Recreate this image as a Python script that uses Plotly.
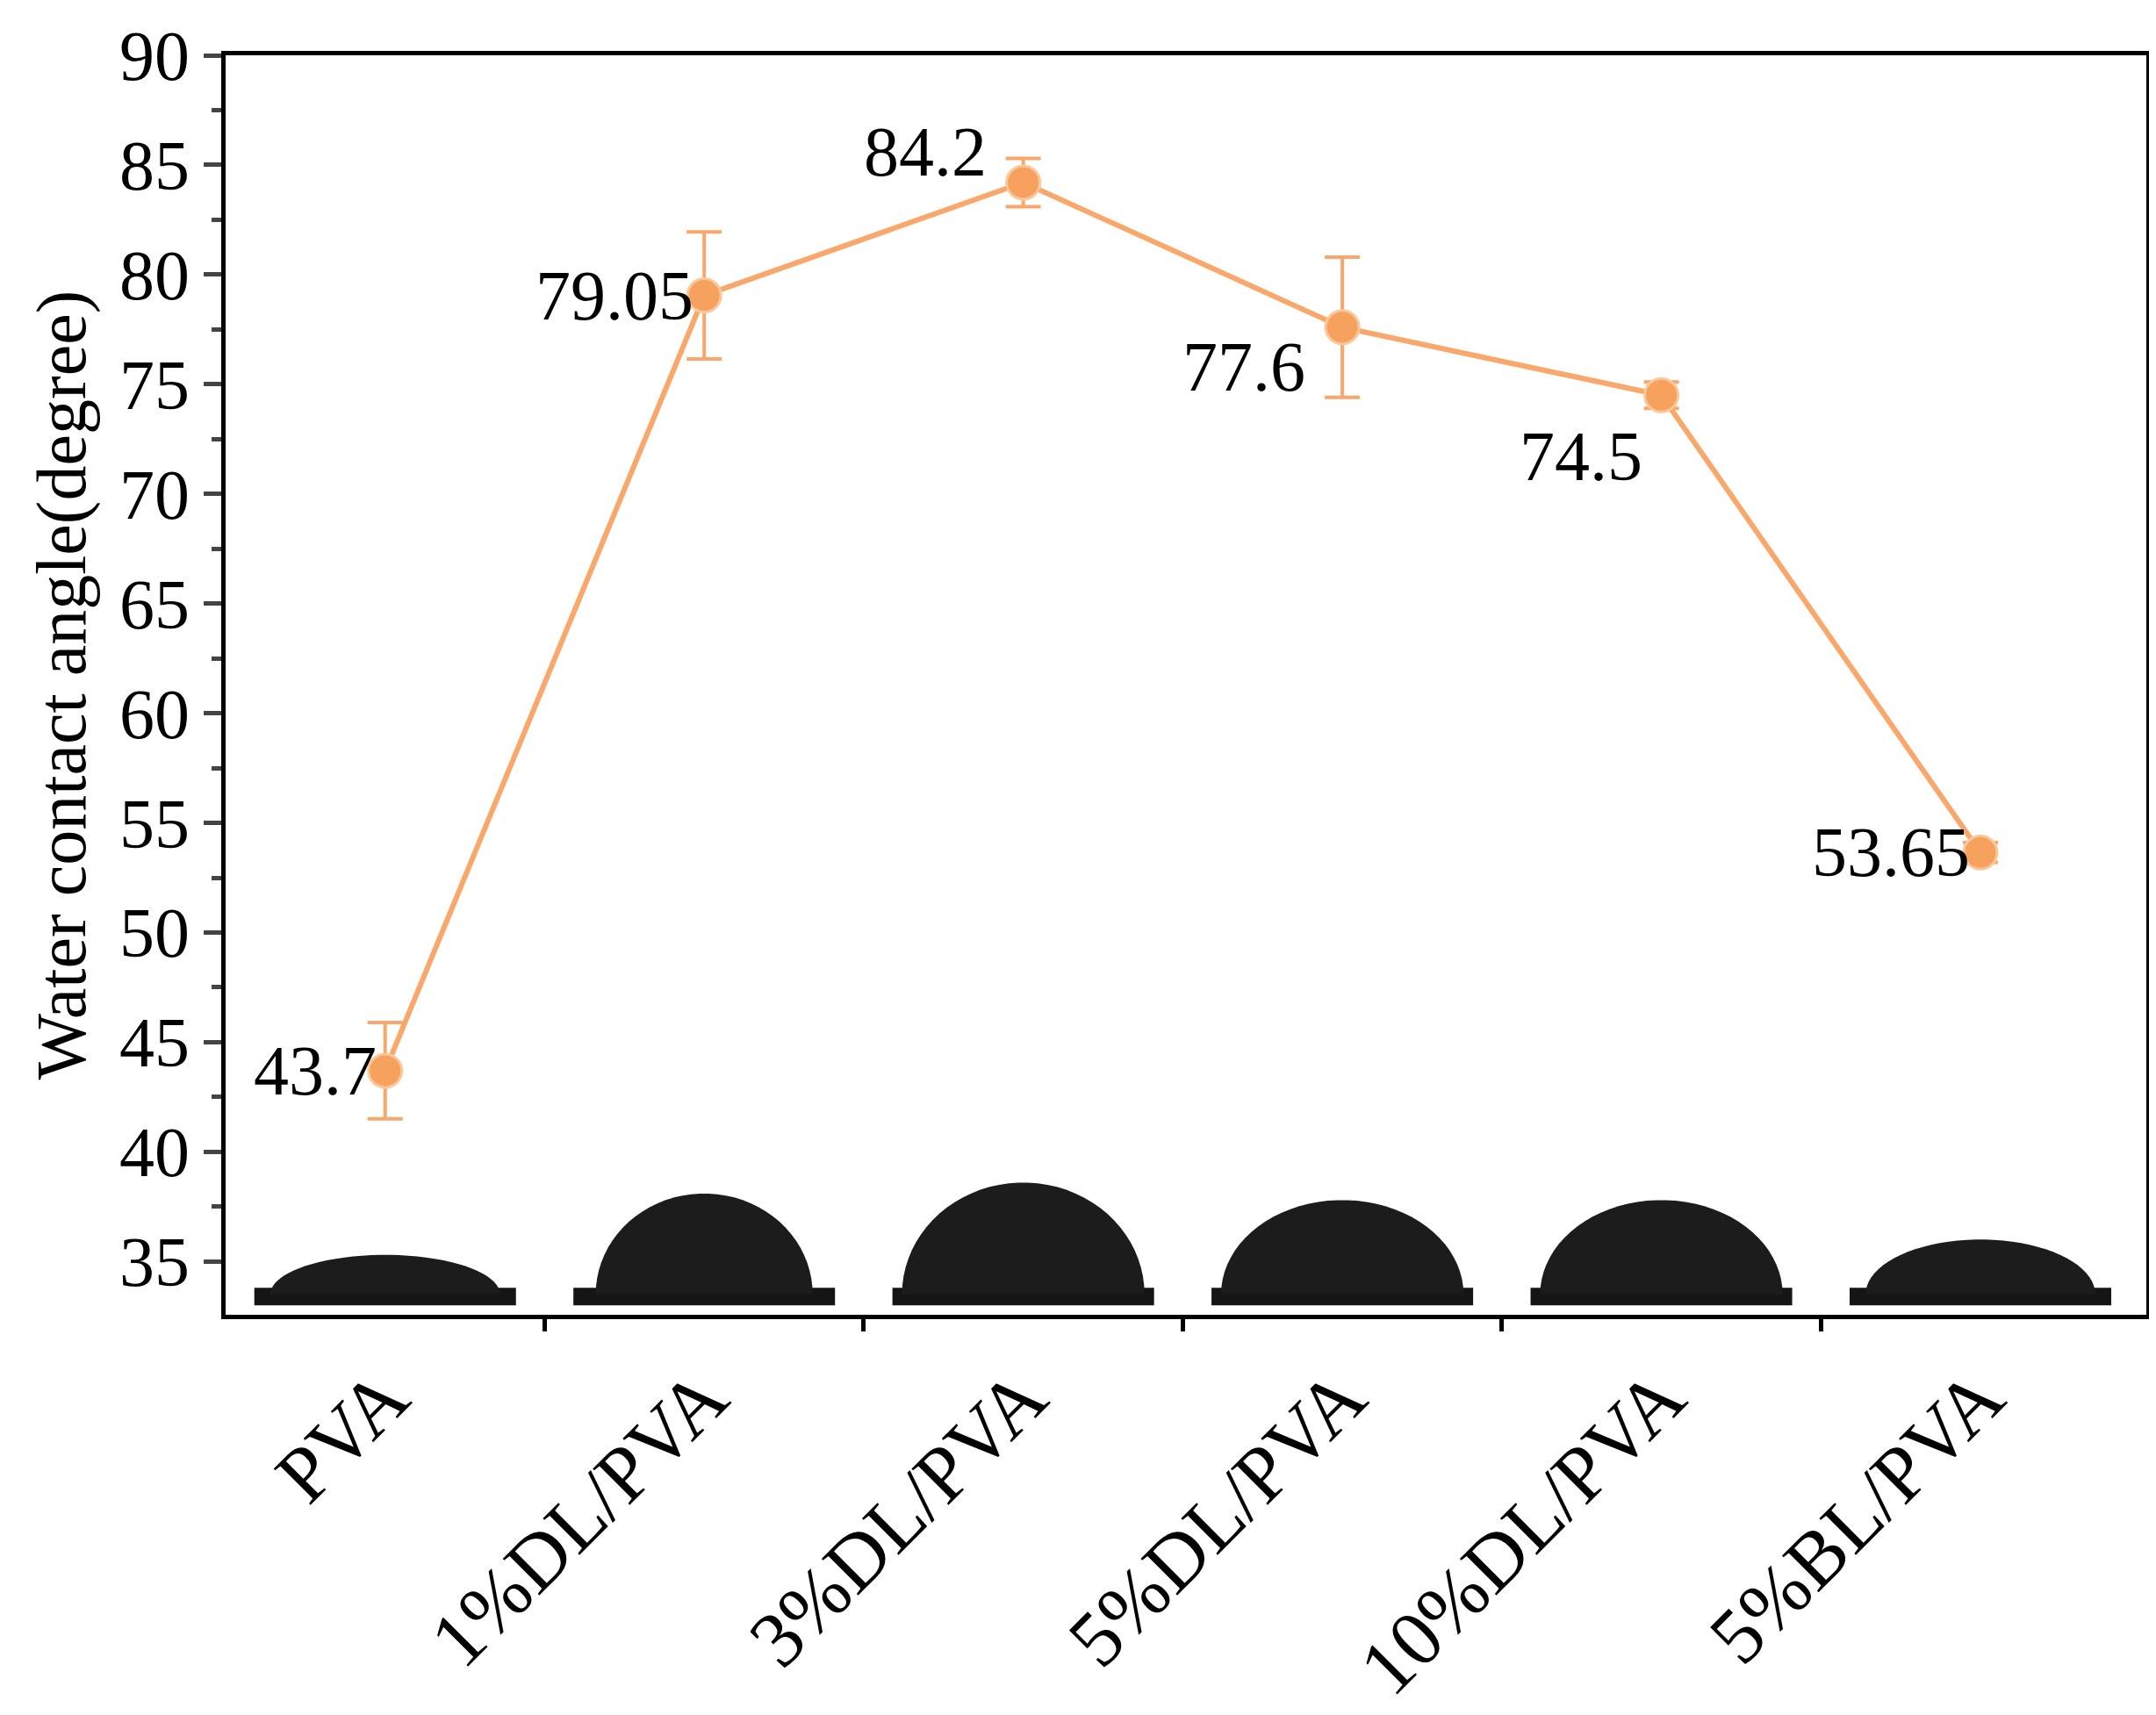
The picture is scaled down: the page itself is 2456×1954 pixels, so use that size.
import plotly.graph_objects as go
import numpy as np

categories = ["PVA", "1%DL/PVA", "3%DL/PVA", "5%DL/PVA", "10%DL/PVA", "5%BL/PVA"]
values = [43.7, 79.05, 84.2, 77.6, 74.5, 53.65]
errors = [2.2, 2.9, 1.1, 3.2, 0.6, 0.45]
labels = ["43.7", "79.05", "84.2", "77.6", "74.5", "53.65"]
# droplet photo approximations: top height and half-width
drop_top = [35.3, 38.1, 38.6, 37.8, 37.8, 36.0]
drop_hw = [0.36, 0.34, 0.38, 0.38, 0.38, 0.36]

xs = list(range(len(categories)))
fig = go.Figure()

shapes = []
base_lo, base_hi = 33.0, 33.8
for i, (t, hw) in enumerate(zip(drop_top, drop_hw)):
    shapes.append(dict(type="rect", xref="x", yref="y", x0=i - 0.41, x1=i + 0.41,
                       y0=base_lo, y1=base_hi, fillcolor="#151515", line=dict(width=0), layer="below"))
    th = np.linspace(0, np.pi, 40)
    px = i + hw * np.cos(th)
    py = base_hi - 0.3 + (t - base_hi + 0.3) * np.sin(th)
    path = "M " + " L ".join(f"{a:.4f},{b:.4f}" for a, b in zip(px, py)) + " Z"
    shapes.append(dict(type="path", xref="x", yref="y", path=path,
                       fillcolor="#1c1c1c", line=dict(width=0), layer="below"))

fig.add_trace(go.Scatter(
    x=xs, y=values, mode="lines+markers",
    line=dict(color="#F9A76B", width=6),
    marker=dict(size=38, color="#F7A15E", line=dict(color="#FBC89A", width=3)),
    error_y=dict(type="data", array=errors, color="#F9A76B", thickness=4, width=20),
    showlegend=False))

offs = [(-8, 0), (-10, 0), (-40, -35), (-40, 45), (-20, 70), (-10, 0)]
ann = []
for i, (lab, v) in enumerate(zip(labels, values)):
    dx, dy = offs[i]
    ann.append(dict(x=i, y=v, text=lab, showarrow=False, xanchor="right", yanchor="middle",
                    xshift=dx, yshift=-dy, font=dict(size=80, color="black",
                    family="Liberation Serif")))

fig.update_layout(
    width=2456, height=1954, plot_bgcolor="white", paper_bgcolor="white",
    margin=dict(l=249, r=19, t=55, b=445),
    font=dict(family="Liberation Serif", color="black"),
    shapes=shapes, annotations=ann,
    xaxis=dict(range=[-0.5, 5.52], tickvals=xs, ticktext=categories, tickangle=-45,
               tickfont=dict(size=90), showline=True, linecolor="black", linewidth=5,
               mirror=True, showgrid=False, zeroline=False, ticks="",
               minor=dict(tickvals=[0.5, 1.5, 2.5, 3.5, 4.5], ticks="outside",
                          ticklen=14, tickwidth=5, tickcolor="black")),
    yaxis=dict(range=[32.57, 90], tickvals=list(range(35, 91, 5)), tickfont=dict(size=80),
               showline=True, linecolor="black", linewidth=5, mirror=True,
               showgrid=False, zeroline=False, ticks="outside", ticklen=20, tickwidth=5,
               minor=dict(dtick=2.5, tick0=32.5, ticks="outside", ticklen=11, tickwidth=5),
               title=dict(text="Water contact angle(degree)", font=dict(size=80), standoff=14)),
)
fig.write_html("out.html")
